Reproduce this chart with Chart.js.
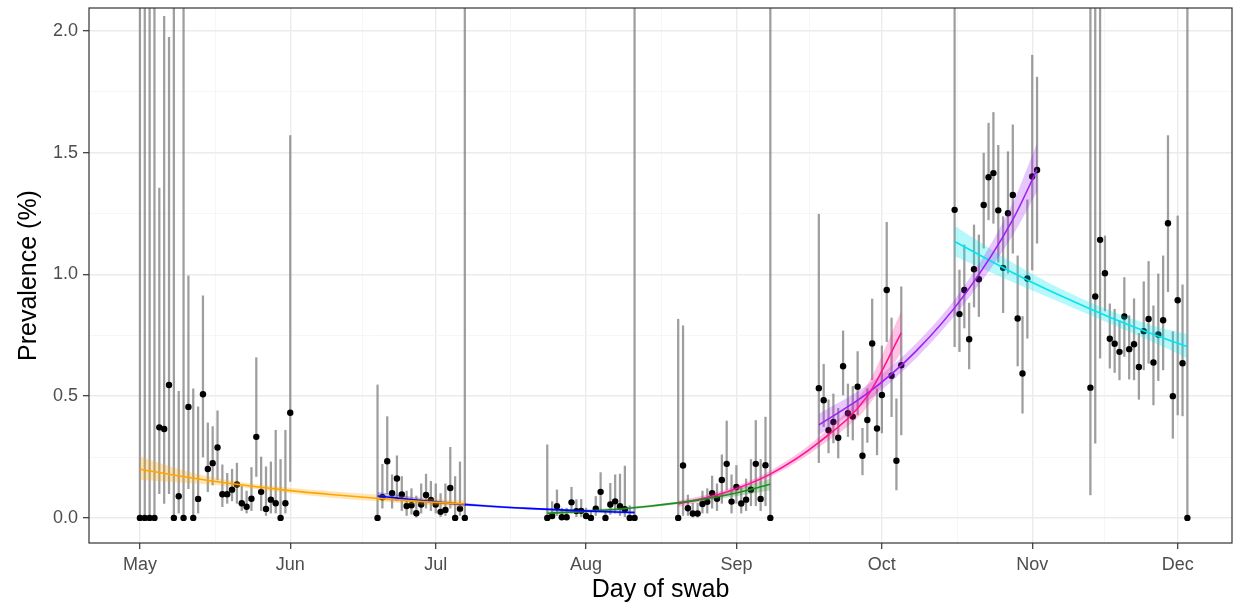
<!DOCTYPE html>
<html>
<head>
<meta charset="utf-8">
<script src="https://cdn.jsdelivr.net/npm/chart.js@4.4.1/dist/chart.umd.min.js"></script>
<style>
  html, body { margin: 0; padding: 0; background: #fff; }
</style>
</head>
<body>
<canvas id="prevChart" width="1241" height="609"></canvas>
<script>
// Axis breaks (days since 1 May)
const monthDays = [0, 31, 61, 92, 123, 153, 184, 214];
const monthLabels = ['May', 'Jun', 'Jul', 'Aug', 'Sep', 'Oct', 'Nov', 'Dec'];
const minorDays = [15.5, 46, 76.5, 107.5, 138, 168.5, 199];
const yMajor = [0, 0.5, 1, 1.5, 2];
const yMinor = [0.25, 0.75, 1.25, 1.75];

// Daily swab estimates, grouped by round
const swabDays = [
  0,1,2,3,4,5,6,7,8,9,10,11,12,13,14,15,16,17,18,19,20,21,22,23,24,25,26,27,28,29,30,31,
  49,50,51,52,53,54,55,56,57,58,59,60,61,62,63,64,65,66,67,
  84,85,86,87,88,89,90,91,92,93,94,95,96,97,98,99,100,101,102,
  111,112,113,114,115,116,117,118,119,120,121,122,123,124,125,126,127,128,129,130,
  140,141,142,143,144,145,146,147,148,149,150,151,152,153,154,155,156,157,
  168,169,170,171,172,173,174,175,176,177,178,179,180,181,182,183,184,185,
  196,197,198,199,200,201,202,203,204,205,206,207,208,209,210,211,212,213,214,215,216
];
const prevalence = [
  0,0,0,0,0.372,0.365,0.546,0,0.089,0,0.456,0,0.078,0.508,0.201,0.225,0.289,0.097,0.097,0.116,0.137,0.06,0.046,0.079,0.333,0.107,0.037,0.075,0.06,0,0.06,0.432,
  0,0.085,0.233,0.101,0.162,0.096,0.049,0.052,0.019,0.055,0.094,0.074,0.055,0.025,0.033,0.123,0,0.038,0,
  0,0.008,0.048,0.003,0.003,0.064,0.028,0.029,0.008,0,0.038,0.107,0,0.055,0.068,0.048,0.036,0,0,
  0,0.215,0.04,0.018,0.018,0.057,0.066,0.101,0.079,0.156,0.222,0.067,0.127,0.059,0.075,0.116,0.222,0.078,0.216,0,
  0.533,0.483,0.36,0.394,0.329,0.623,0.43,0.416,0.539,0.255,0.402,0.716,0.367,0.505,0.936,0.584,0.235,0.627,
  1.265,0.837,0.936,0.734,1.021,0.98,1.285,1.399,1.416,1.263,1.027,1.251,1.326,0.819,0.593,0.983,1.402,1.429,
  0.535,0.909,1.142,1.005,0.736,0.715,0.682,0.827,0.693,0.713,0.62,0.767,0.817,0.638,0.753,0.812,1.21,0.5,0.894,0.635,0
];
const lowerCI = [
  0,0,0,0,0.10,0.06,0.10,0,0.02,0,0.12,0,0.02,0.25,0.108,0.135,0.156,0.046,0.06,0.07,0.06,0.03,0.02,0.03,0.17,0.03,0.01,0.02,0.02,0,0.02,0.15,
  0,0.04,0.10,0.04,0.07,0.03,0.01,0.015,0.003,0.02,0.04,0.03,0.02,0.005,0.01,0.04,0,0.01,0,
  0,0.001,0.01,0,0,0.02,0.005,0.005,0.001,0,0.01,0.03,0,0.015,0.02,0.01,0.005,0,0,
  0,0.01,0.01,0.003,0.003,0.02,0.02,0.04,0.03,0.06,0.115,0.02,0.06,0.02,0.03,0.05,0.05,0.03,0.05,0,
  0.227,0.375,0.267,0.308,0.246,0.505,0.334,0.32,0.423,0.177,0.31,0.567,0.259,0.349,0.724,0.416,0.115,0.341,
  0.703,0.683,0.78,0.612,0.866,0.827,1.108,1.224,1.21,1.05,0.843,1.005,1.087,0.624,0.43,0.738,1.018,1.128,
  0.094,0.307,0.656,0.85,0.615,0.597,0.567,0.663,0.57,0.567,0.487,0.608,0.635,0.464,0.564,0.608,0.929,0.327,0.423,0.419,0
];
// 2.3 = interval runs off the top of the panel
const upperCI = [
  2.3,2.3,2.3,2.3,1.355,2.06,1.974,2.3,0.52,2.3,0.994,0.53,0.456,0.912,0.39,0.375,0.44,0.218,0.183,0.2,0.225,0.13,0.11,0.207,0.658,0.25,0.21,0.23,0.36,0.24,0.36,1.57,
  0.546,0.22,0.416,0.177,0.255,0.17,0.11,0.12,0.09,0.14,0.18,0.15,0.14,0.1,0.14,0.29,0.17,0.23,2.3,
  0.30,0.067,0.115,0.04,0.04,0.126,0.075,0.076,0.04,0.03,0.088,0.186,0.03,0.142,0.177,0.18,0.213,0.05,2.3,
  0.816,0.789,0.094,0.06,0.06,0.11,0.12,0.172,0.14,0.259,0.398,0.177,0.215,0.13,0.16,0.24,0.4,0.24,0.414,2.3,
  1.247,0.631,0.485,0.509,0.45,0.768,0.55,0.54,0.683,0.368,0.53,0.899,0.53,0.706,1.214,0.821,0.489,0.949,
  2.3,1.018,1.121,0.882,1.203,1.162,1.498,1.621,1.665,1.53,1.237,1.504,1.614,1.076,0.827,1.306,1.9,1.81,
  2.3,2.3,2.3,1.158,0.879,0.857,0.81,0.987,0.83,0.9,0.758,0.97,1.053,0.871,1.002,1.076,1.57,0.765,1.24,0.957,2.3
];

// Fitted curves with ribbons (one per pair of rounds)
const orangeDays = [0, 10, 20, 30, 40, 50, 60, 67];
const orangeMid = [0.200, 0.166, 0.138, 0.114, 0.095, 0.079, 0.065, 0.057];
const orangeLo = [0.157, 0.143, 0.127, 0.103, 0.082, 0.066, 0.052, 0.043];
const orangeHi = [0.252, 0.190, 0.150, 0.126, 0.109, 0.094, 0.080, 0.073];

const blueDays = [49, 60, 70, 80, 90, 102];
const blueMid = [0.090, 0.067, 0.051, 0.039, 0.030, 0.022];
const blueLo = [0.076, 0.059, 0.046, 0.035, 0.025, 0.016];
const blueHi = [0.106, 0.076, 0.056, 0.043, 0.035, 0.029];

const greenDays = [84, 95, 105, 115, 122, 130];
const greenMid = [0.019, 0.031, 0.048, 0.073, 0.098, 0.138];
const greenLo = [0.013, 0.025, 0.043, 0.066, 0.086, 0.114];
const greenHi = [0.027, 0.038, 0.053, 0.080, 0.111, 0.162];

const pinkDays = [111, 120, 130, 140, 150, 157];
const pinkMid = [0.057, 0.100, 0.180, 0.310, 0.500, 0.760];
const pinkLo = [0.045, 0.089, 0.168, 0.290, 0.455, 0.680];
const pinkHi = [0.071, 0.112, 0.194, 0.332, 0.548, 0.850];

const purpleDays = [140, 150, 160, 170, 180, 185];
const purpleMid = [0.382, 0.511, 0.684, 0.915, 1.225, 1.430];
const purpleLo = [0.340, 0.478, 0.655, 0.880, 1.160, 1.340];
const purpleHi = [0.428, 0.546, 0.715, 0.952, 1.295, 1.540];

const cyanDays = [168, 180, 190, 200, 210, 216];
const cyanMid = [1.135, 1.007, 0.911, 0.824, 0.746, 0.703];
const cyanLo = [1.075, 0.968, 0.884, 0.798, 0.712, 0.655];
const cyanHi = [1.200, 1.048, 0.940, 0.852, 0.783, 0.755];

const fits = [
    { line: '#FFA500', band: 'rgba(255,165,0,0.28)', days: orangeDays, mid: orangeMid, lo: orangeLo, hi: orangeHi },
    { line: '#0000FF', band: 'rgba(0,0,255,0.28)', days: blueDays, mid: blueMid, lo: blueLo, hi: blueHi },
    { line: '#228B22', band: 'rgba(34,139,34,0.28)', days: greenDays, mid: greenMid, lo: greenLo, hi: greenHi },
    { line: '#FF1493', band: 'rgba(255,20,147,0.25)', days: pinkDays, mid: pinkMid, lo: pinkLo, hi: pinkHi },
    { line: '#A020F0', band: 'rgba(160,32,240,0.25)', days: purpleDays, mid: purpleMid, lo: purpleLo, hi: purpleHi },
    { line: '#00E5EE', band: 'rgba(0,229,238,0.28)', days: cyanDays, mid: cyanMid, lo: cyanLo, hi: cyanHi }
];

const toXY = (days, vals) => days.map((d, i) => ({ x: d, y: vals[i] }));

const datasets = [];

// error bars as thin floating bars
datasets.push({
    type: 'bar',
    data: swabDays.map((d, i) => ({ x: d, y: [lowerCI[i], upperCI[i]] })),
    backgroundColor: 'rgba(120,120,120,0.72)',
    borderWidth: 0,
    barThickness: 1.6,
    order: 4
});

// point estimates
datasets.push({
    type: 'scatter',
    data: toXY(swabDays, prevalence),
    backgroundColor: '#000',
    borderColor: '#000',
    pointRadius: 3.2,
    pointBorderWidth: 0,
    order: 3
});

const curveOpts = { pointRadius: 0, tension: 0.4, cubicInterpolationMode: 'monotone' };

fits.forEach(f => {
    datasets.push(Object.assign({ type: 'line', data: toXY(f.days, f.lo), borderWidth: 0, borderColor: 'rgba(0,0,0,0)', fill: false, order: 2 }, curveOpts));
    datasets.push(Object.assign({ type: 'line', data: toXY(f.days, f.hi), borderWidth: 0, borderColor: 'rgba(0,0,0,0)', backgroundColor: f.band, fill: '-1', order: 2 }, curveOpts));
    datasets.push(Object.assign({ type: 'line', data: toXY(f.days, f.mid), borderWidth: 1.6, borderColor: f.line, fill: false, order: 1 }, curveOpts));
});

// ggplot-style panel border
const panelBorder = {
    id: 'panelBorder',
    afterDraw(chart) {
        const { ctx, chartArea: a } = chart;
        ctx.save();
        ctx.strokeStyle = '#333333';
        ctx.lineWidth = 1.2;
        ctx.strokeRect(a.left, a.top, a.right - a.left, a.bottom - a.top);
        ctx.restore();
    }
};

const isMajorX = c => !c.tick || monthDays.includes(c.tick.value);
const isMajorY = c => !c.tick || yMajor.includes(c.tick.value);
const tickFont = { family: '"Liberation Sans", Arial, sans-serif', size: 18 };
const titleFont = { family: '"Liberation Sans", Arial, sans-serif', size: 25 };

new Chart(document.getElementById('prevChart'), {
    type: 'scatter',
    data: { datasets: datasets },
    options: {
        responsive: false,
        animation: false,
        layout: { padding: { top: 8, right: 9, left: 0, bottom: 0 } },
        plugins: { legend: { display: false }, tooltip: { enabled: false } },
        scales: {
            x: {
                type: 'linear',
                offset: false,
                min: -10.5,
                max: 225.2,
                afterFit: s => { s.height = 66; },
                afterBuildTicks: s => {
                    s.ticks = monthDays.concat(minorDays).sort((a, b) => a - b).map(v => ({ value: v }));
                },
                ticks: {
                    autoSkip: false,
                    maxRotation: 0,
                    padding: 5,
                    color: '#4D4D4D',
                    font: tickFont,
                    callback: v => {
                        const i = monthDays.indexOf(v);
                        return i >= 0 ? monthLabels[i] : '';
                    }
                },
                grid: {
                    offset: false,
                    color: c => isMajorX(c) ? '#EBEBEB' : '#F4F4F4',
                    lineWidth: c => isMajorX(c) ? 1.4 : 0.8,
                    tickColor: c => isMajorX(c) ? '#333333' : 'rgba(0,0,0,0)',
                    tickLength: 6,
                    tickWidth: 1.2
                },
                border: { display: false, color: '#333333' },
                title: { display: true, text: 'Day of swab', color: '#000', font: titleFont, padding: { top: 0, bottom: 4 } }
            },
            y: {
                type: 'linear',
                min: -0.103,
                max: 2.094,
                afterFit: s => { s.width = 89; s.paddingTop = 0; s.paddingBottom = 0; },
                afterBuildTicks: s => {
                    s.ticks = yMajor.concat(yMinor).sort((a, b) => a - b).map(v => ({ value: v }));
                },
                ticks: {
                    padding: 5,
                    color: '#4D4D4D',
                    font: tickFont,
                    callback: v => yMajor.includes(v) ? v.toFixed(1) : ''
                },
                grid: {
                    color: c => isMajorY(c) ? '#EBEBEB' : '#F4F4F4',
                    lineWidth: c => isMajorY(c) ? 1.4 : 0.8,
                    tickColor: c => isMajorY(c) ? '#333333' : 'rgba(0,0,0,0)',
                    tickLength: 6,
                    tickWidth: 1.2
                },
                border: { display: false, color: '#333333' },
                title: { display: true, text: 'Prevalence (%)', color: '#000', font: titleFont, padding: { top: 14, bottom: 0 } }
            }
        }
    },
    plugins: [panelBorder]
});
</script>
</body>
</html>
